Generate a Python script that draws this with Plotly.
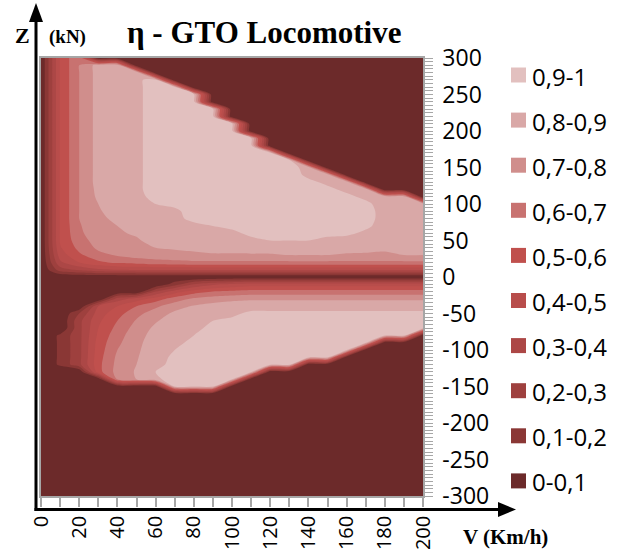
import plotly.graph_objects as go

# ---------------- data ----------------
V_KMH = [0, 10, 20, 30, 40, 50, 60, 70, 80, 90, 100, 110, 120, 130, 140, 150, 160, 170, 180, 190, 200]

# tractive / braking effort rows (kN), top to bottom
Z_KN = [300, 290, 280, 270, 260, 250, 240, 230, 220, 210, 200, 190, 180, 170, 160, 150, 140, 130, 120, 110,
        100, 90, 80, 70, 60, 50, 40, 30, 20, 10, 0, -10, -20, -30, -40, -50, -60, -70, -80, -90, -100,
        -110, -120, -130, -140, -150, -160, -300]

# efficiency in percent, one row per Z_KN entry, one column per V_KMH entry
ETA_PCT = [
    [0, 51, 70, 0, 0, 0, 0, 0, 0, 0, 0, 0, 0, 0, 0, 0, 0, 0, 0, 0, 0],          # 300
    [0, 51, 70, 84, 88, 0, 0, 0, 0, 0, 0, 0, 0, 0, 0, 0, 0, 0, 0, 0, 0],        # 290
    [0, 51, 70, 84, 88, 89, 0, 0, 0, 0, 0, 0, 0, 0, 0, 0, 0, 0, 0, 0, 0],       # 280
    [0, 51, 70, 84, 88, 89, 92, 0, 0, 0, 0, 0, 0, 0, 0, 0, 0, 0, 0, 0, 0],      # 270
    [0, 51, 70, 84, 88, 89, 92, 93, 0, 0, 0, 0, 0, 0, 0, 0, 0, 0, 0, 0, 0],     # 260
    [0, 51, 70, 84, 88, 89, 92, 93, 93, 0, 0, 0, 0, 0, 0, 0, 0, 0, 0, 0, 0],    # 250
    [0, 51, 70, 84, 88, 89, 92, 93, 93, 0, 0, 0, 0, 0, 0, 0, 0, 0, 0, 0, 0],    # 240
    [0, 51, 70, 84, 88, 89, 92, 93, 93, 93, 0, 0, 0, 0, 0, 0, 0, 0, 0, 0, 0],   # 230
    [0, 51, 70, 84, 88, 89, 92, 93, 93, 93, 0, 0, 0, 0, 0, 0, 0, 0, 0, 0, 0],   # 220
    [0, 51, 70, 84, 88, 89, 92, 93, 93, 93, 93, 0, 0, 0, 0, 0, 0, 0, 0, 0, 0],  # 210
    [0, 51, 70, 84, 88, 89, 92, 93, 93, 93, 93, 0, 0, 0, 0, 0, 0, 0, 0, 0, 0],  # 200
    [0, 51, 70, 84, 88, 89, 92, 93, 93, 93, 93, 93, 0, 0, 0, 0, 0, 0, 0, 0, 0], # 190
    [0, 51, 70, 84, 88, 89, 92, 93, 93, 93, 93, 93, 0, 0, 0, 0, 0, 0, 0, 0, 0], # 180
    [0, 51, 70, 84, 88, 89, 92, 93, 93, 93, 93, 93, 93, 0, 0, 0, 0, 0, 0, 0, 0],    # 170
    [0, 51, 70, 84, 88, 89, 92, 93, 93, 93, 93, 93, 93, 92, 0, 0, 0, 0, 0, 0, 0],   # 160
    [0, 51, 70, 84, 88, 89, 92, 93, 93, 93, 93, 93, 93, 92, 88, 0, 0, 0, 0, 0, 0],  # 150
    [0, 51, 70, 84, 88, 89, 92, 93, 93, 93, 93, 93, 93, 92, 89, 88, 0, 0, 0, 0, 0], # 140
    [0, 51, 70, 84, 88, 89, 92, 93, 93, 93, 93, 93, 93, 92, 91, 89, 88, 0, 0, 0, 0],    # 130
    [0, 51, 70, 83, 88, 89, 92, 92, 93, 93, 93, 93, 93, 92, 91, 91, 89, 88, 0, 0, 0],   # 120
    [0, 51, 70, 82, 87, 89, 91, 92, 93, 93, 93, 93, 93, 92, 91, 91, 91, 89, 87, 86, 0], # 110
    [0, 51, 70, 80, 86, 88, 90, 91, 93, 93, 93, 93, 93, 92, 91, 91, 91, 91, 88, 87, 86],    # 100
    [0, 51, 70, 79, 84, 87, 89, 89, 92, 92, 93, 93, 93, 92, 92, 91, 91, 91, 89, 88, 87],    # 90
    [0, 51, 70, 78, 82, 86, 88, 89, 91, 91, 92, 93, 93, 92, 92, 91, 91, 91, 89, 88, 87],    # 80
    [0, 51, 69, 77, 80, 84, 87, 88, 89, 90, 91, 92, 92, 92, 92, 91, 91, 91, 88, 87, 86],    # 70
    [0, 51, 68, 76, 79, 81, 85, 86, 87, 88, 89, 91, 91, 91, 91, 91, 91, 89, 87, 86, 85],    # 60
    [0, 51, 66, 74, 78, 79, 83, 84, 85, 86, 87, 89, 90, 90, 90, 89, 88, 87, 85, 84, 83],    # 50
    [0, 49, 63, 72, 76, 78, 80, 81, 82, 83, 83, 84, 84, 85, 85, 84, 83, 82, 81, 82, 82],    # 40
    [0, 45, 58, 67, 71, 74, 76, 77, 78, 79, 79, 79, 79, 80, 80, 80, 79, 79, 79, 80, 80],    # 30
    [0, 38, 50, 58, 62, 64, 66, 67, 68, 68, 68, 68, 68, 68, 68, 68, 68, 68, 68, 68, 68],    # 20
    [0, 25, 32, 38, 40, 41, 42, 42, 42, 42, 42, 42, 42, 42, 42, 42, 42, 42, 42, 42, 42],    # 10
    [0, 0, 0, 0, 0, 0, 0, 0, 0, 0, 0, 0, 0, 0, 0, 0, 0, 0, 0, 0, 0],                        # 0
    [0, 0, 0, 0, 0, 0, 0, 15, 30, 38, 42, 45, 45, 45, 45, 45, 45, 45, 45, 45, 45],          # -10
    [0, 0, 0, 0, 0, 0, 30, 45, 55, 60, 62, 64, 64, 64, 64, 64, 64, 64, 64, 64, 64],         # -20
    [0, 0, 0, 0, 35, 45, 55, 65, 72, 75, 77, 78, 78, 78, 78, 78, 78, 78, 78, 78, 78],       # -30
    [0, 0, 0, 40, 50, 60, 68, 76, 81, 84, 86, 88, 88, 88, 88, 88, 88, 88, 88, 88, 88],      # -40
    [0, 0, 20, 45, 56, 67, 75, 82, 86, 88, 89, 91, 91, 91, 91, 91, 91, 91, 91, 91, 91],     # -50
    [0, 0, 27, 48, 60, 71, 79, 85, 88, 90, 91, 92, 92, 92, 92, 92, 92, 92, 92, 92, 92],     # -60
    [0, 0, 27, 50, 63, 74, 82, 87, 89, 91, 92, 93, 93, 93, 93, 93, 93, 93, 93, 93, 91],     # -70
    [0, 12, 27, 52, 66, 76, 84, 88, 90, 92, 93, 93, 93, 93, 93, 93, 93, 93, 91, 91, 0],     # -80
    [0, 12, 27, 54, 68, 77, 86, 89, 91, 93, 93, 93, 93, 93, 93, 93, 93, 91, 0, 0, 0],       # -90
    [0, 12, 27, 55, 70, 78, 87, 90, 92, 93, 93, 93, 93, 93, 93, 93, 91, 0, 0, 0, 0],        # -100
    [0, 12, 27, 56, 72, 79, 88, 91, 92, 93, 93, 93, 93, 93, 91, 91, 0, 0, 0, 0, 0],         # -110
    [0, 12, 27, 57, 73, 80, 89, 91, 93, 93, 93, 93, 91, 91, 0, 0, 0, 0, 0, 0, 0],           # -120
    [0, 0, 0, 56, 74, 81, 90, 92, 93, 93, 93, 91, 0, 0, 0, 0, 0, 0, 0, 0, 0],               # -130
    [0, 0, 0, 0, 72, 80, 89, 92, 93, 93, 91, 0, 0, 0, 0, 0, 0, 0, 0, 0, 0],                 # -140
    [0, 0, 0, 0, 0, 0, 0, 90, 91, 91, 0, 0, 0, 0, 0, 0, 0, 0, 0, 0, 0],                     # -150
    [0, 0, 0, 0, 0, 0, 0, 0, 0, 0, 0, 0, 0, 0, 0, 0, 0, 0, 0, 0, 0],                        # -160
    [0, 0, 0, 0, 0, 0, 0, 0, 0, 0, 0, 0, 0, 0, 0, 0, 0, 0, 0, 0, 0],                        # -300
]

LEGEND_LABELS = ["0,9-1", "0,8-0,9", "0,7-0,8", "0,6-0,7", "0,5-0,6",
                 "0,4-0,5", "0,3-0,4", "0,2-0,3", "0,1-0,2", "0-0,1"]
# band colours from the lowest band (0-0,1) to the highest (0,9-1)
BAND_COLORS = ["#6C2A2A", "#8A3735", "#9E403E", "#AC4746", "#B84D4B",
               "#C0504D", "#C87270", "#D08E8C", "#D9A8A7", "#E2C0BF"]
X_TICKS = [0, 20, 40, 60, 80, 100, 120, 140, 160, 180, 200]
Y_TICKS = [-300, -250, -200, -150, -100, -50, 0, 50, 100, 150, 200, 250, 300]

# ---------------- figure ----------------
W, H = 617, 553
L, R, T, B = 41, 423, 58, 496  # plot area in pixels


def px(x):
    return (x - L) / (R - L)


def py(y):
    return (B - y) / (B - T)


z_rows = [[v / 100.0 for v in row] for row in ETA_PCT][::-1]
y_vals = Z_KN[::-1]

colorscale = [[k / 9.0, BAND_COLORS[k]] for k in range(10)]

fig = go.Figure(go.Contour(
    x=V_KMH, y=y_vals, z=z_rows,
    contours=dict(start=0.1, end=0.9, size=0.1, coloring="fill", showlines=False),
    colorscale=colorscale, showscale=False,
    line=dict(width=0, smoothing=0.8),
    hoverinfo="skip",
))

gray = "#A6A6A6"
ytickfont = dict(family="Open Sans", size=23, color="black")
xtickfont = dict(family="Open Sans", size=20, color="black")

fig.update_layout(
    width=W, height=H,
    margin=dict(l=L, r=W - R, t=T, b=H - B, pad=0, autoexpand=False),
    paper_bgcolor="white", plot_bgcolor="white",
    showlegend=False,
    xaxis=dict(range=[0, 200], tickvals=X_TICKS, ticktext=[str(v) for v in X_TICKS],
               ticks="outside", ticklen=9, tickwidth=1.5, tickcolor=gray,
               tickangle=-90, tickfont=xtickfont, ticklabelstandoff=1,
               showline=True, linecolor=gray, linewidth=1.5, mirror=True,
               showgrid=False, zeroline=False, automargin=False,
               minor=dict(dtick=10, ticks="outside", ticklen=9, tickwidth=1.5, tickcolor=gray)),
    yaxis=dict(range=[-300, 300], tickvals=Y_TICKS, ticktext=[str(v) for v in Y_TICKS],
               side="right", ticks="outside", ticklen=8, tickwidth=1.2, tickcolor=gray,
               tickfont=ytickfont, ticklabelstandoff=5,
               showline=True, linecolor=gray, linewidth=1.5, mirror=True,
               showgrid=False, zeroline=False, automargin=False,
               minor=dict(dtick=5, ticks="outside", ticklen=8, tickwidth=1.2, tickcolor=gray)),
)

shapes = []
annotations = []

# black axis arrows
shapes.append(dict(type="line", xref="paper", yref="paper",
                   x0=px(36), y0=py(511), x1=px(36), y1=py(18),
                   line=dict(color="black", width=3)))
shapes.append(dict(type="path", xref="paper", yref="paper",
                   path=f"M {px(36)},{py(3)} L {px(29)},{py(22)} L {px(43)},{py(22)} Z",
                   fillcolor="black", line=dict(color="black", width=0)))
shapes.append(dict(type="line", xref="paper", yref="paper",
                   x0=px(34.5), y0=py(509.5), x1=px(502), y1=py(509.5),
                   line=dict(color="black", width=3)))
shapes.append(dict(type="path", xref="paper", yref="paper",
                   path=f"M {px(516)},{py(509.5)} L {px(498)},{py(502)} L {px(498)},{py(517)} Z",
                   fillcolor="black", line=dict(color="black", width=0)))

# legend (squares + labels)
for k, label in enumerate(LEGEND_LABELS):
    yc = 75 + 45.1 * k
    color = BAND_COLORS[len(BAND_COLORS) - 1 - k]
    shapes.append(dict(type="rect", xref="paper", yref="paper",
                       x0=px(511), x1=px(526), y0=py(yc + 7.5), y1=py(yc - 7.5),
                       fillcolor=color, line=dict(width=0)))
    annotations.append(dict(text=label, xref="paper", yref="paper",
                            x=px(530), y=py(yc + 1), xanchor="left", yanchor="middle",
                            showarrow=False, font=dict(family="Open Sans", size=24, color="black")))

serif = "Liberation Serif"
annotations.append(dict(text="<b>η - GTO Locomotive</b>", xref="paper", yref="paper",
                        x=px(264), y=py(33), xanchor="center", yanchor="middle",
                        showarrow=False, font=dict(family=serif, size=31, color="black")))
annotations.append(dict(text="<b>Z</b>", xref="paper", yref="paper",
                        x=px(22), y=py(36), xanchor="center", yanchor="middle",
                        showarrow=False, font=dict(family=serif, size=22, color="black")))
annotations.append(dict(text="<b>(kN)</b>", xref="paper", yref="paper",
                        x=px(67), y=py(37), xanchor="center", yanchor="middle",
                        showarrow=False, font=dict(family=serif, size=19, color="black")))
annotations.append(dict(text="<b>V (Km/h)</b>", xref="paper", yref="paper",
                        x=px(505), y=py(537), xanchor="center", yanchor="middle",
                        showarrow=False, font=dict(family=serif, size=21, color="black")))

fig.update_layout(shapes=shapes, annotations=annotations)

fig.write_html("out.html")
